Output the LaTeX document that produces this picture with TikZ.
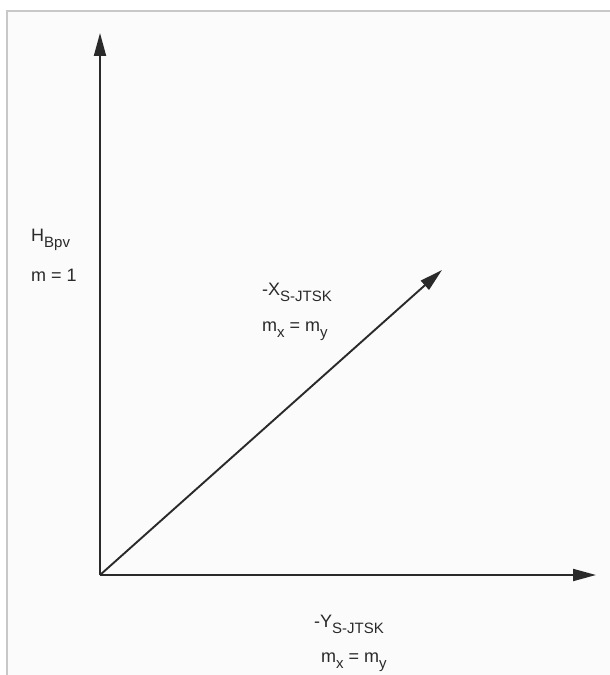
\documentclass[tikz,border=0pt]{standalone}
\usepackage{fontspec}
\setmainfont{Liberation Sans}
\usepackage{tikz}
\usetikzlibrary{arrows.meta, positioning}
\definecolor{axisgray}{HTML}{2A2A2A}
\definecolor{framegray}{HTML}{C8C8C8}
\definecolor{paper}{HTML}{FBFBFB}
\newcommand{\lowidx}[1]{\raisebox{-0.38em}{\fontsize{15bp}{15bp}\selectfont #1}}

\begin{document}
\begin{tikzpicture}[x=1bp, y=-1bp,
    axis/.style={draw=axisgray, line width=1.9bp, -{Triangle[length=23bp, width=12bp]}},
    lbl/.style={anchor=base west, inner sep=0pt, text=axisgray, font=\fontsize{18bp}{21bp}\selectfont}]
  \useasboundingbox (0,0) rectangle (610,675);
  % frame
  \fill[paper] (7,11) rectangle (610,675);
  \draw[framegray, line width=1.5bp] (7,675) -- (7,11) -- (610,11);
  % axes
  \coordinate (O) at (100,575);
  \coordinate (htip) at (100,33);
  \coordinate (ytip) at (596,575);
  \coordinate (xtip) at (442,270);
  \draw[axis] (O) -- (htip);
  \draw[axis] (O) -- (ytip);
  \draw[axis] (O) -- (xtip);
  % labels
  \node[lbl] (hname) at (31,241) {H\lowidx{Bpv}};
  \node[lbl] (hscale) at (31,281) {m = 1};
  \node[lbl] (xname) at (262,295) {-X\lowidx{S-JTSK}};
  \node[lbl] (xscale) at (262,331) {m\lowidx{x} = m\lowidx{y}};
  \node[lbl] (yname) at (314,627) {-Y\lowidx{S-JTSK}};
  \node[lbl] (yscale) at (321,662) {m\lowidx{x} = m\lowidx{y}};
\end{tikzpicture}
\end{document}
